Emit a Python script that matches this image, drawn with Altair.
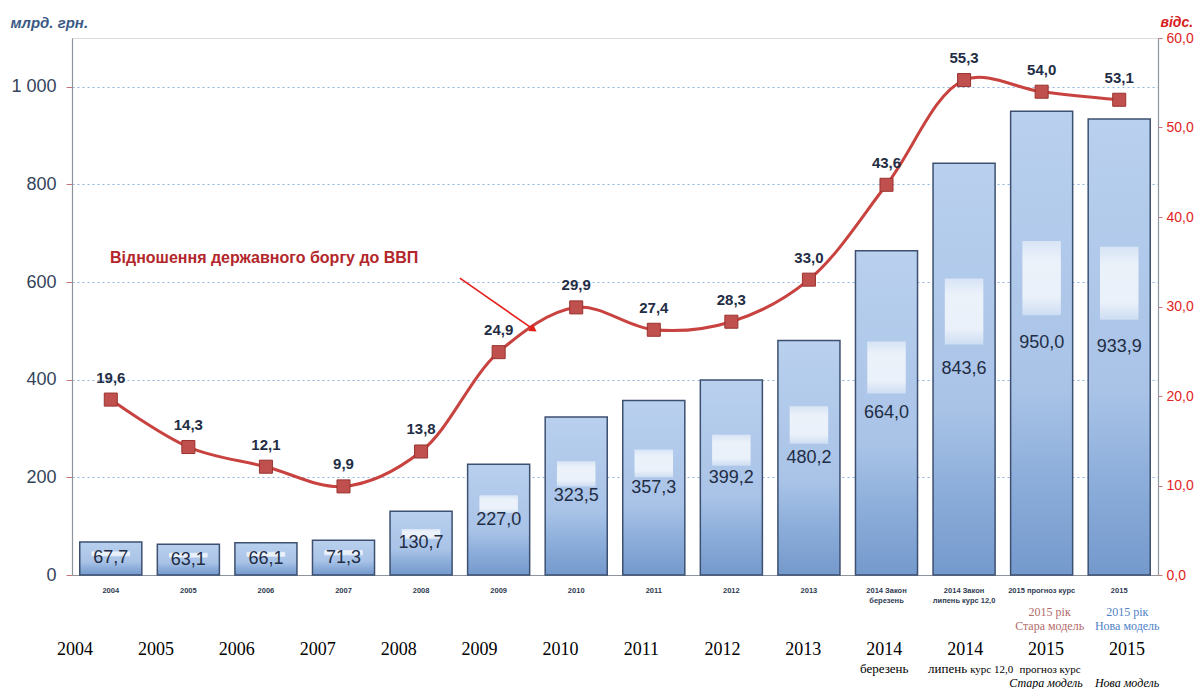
import altair as alt
import pandas as pd

# ---------------- data ----------------
categories = ["2004", "2005", "2006", "2007", "2008", "2009", "2010", "2011", "2012", "2013",
              "2014 Закон|березень", "2014 Закон|липень курс 12,0", "2015 прогноз курс", "2015"]
debt = [67.7, 63.1, 66.1, 71.3, 130.7, 227.0, 323.5, 357.3, 399.2, 480.2, 664.0, 843.6, 950.0, 933.9]
ratio = [19.6, 14.3, 12.1, 9.9, 13.8, 24.9, 29.9, 27.4, 28.3, 33.0, 43.6, 55.3, 54.0, 53.1]

year_row = ["2004", "2005", "2006", "2007", "2008", "2009", "2010", "2011", "2012", "2013",
            "2014", "2014", "2015", "2015"]
sub_center = {10: "березень"}
sub_right = {11: "липень"}
sub_small_left = {11: "курс 12,0"}
sub_small_center = {12: "прогноз курс"}
sub_italic = {12: "Стара модель", 13: "Нова модель"}
model_cats = ["2015 прогноз курс", "2015"]
model_text = ["2015 рік|Стара модель", "2015 рік|Нова модель"]

annot_text = "Відношення державного боргу до ВВП"
annot_x = [-0.01]
annot_y = [650]
arrow_x = [4.5, 5.45]
arrow_y = [608, 503]

# ---------------- frames ----------------
def frame(d):
    return pd.DataFrame({"idx": list(d.keys()), "t": list(d.values())})

df = pd.DataFrame({"cat": categories, "debt": debt, "ratio": ratio})
df_years = pd.DataFrame({"idx": list(range(len(year_row))), "t": year_row})
df_model = pd.DataFrame({"cat": model_cats, "txt": model_text, "kind": ["old", "new"]})
df_annot = pd.DataFrame({"x": annot_x, "y": annot_y, "t": [annot_text]})
df_arrow = pd.DataFrame({"x": arrow_x[:1], "y": arrow_y[:1], "x2": arrow_x[1:], "y2": arrow_y[1:]})
df_head = pd.DataFrame({"x": arrow_x[1:], "y": arrow_y[1:]})

W, H = 1086, 537
FONT = "Liberation Sans"
SERIF = "Liberation Serif"

xband = alt.Scale(domain=categories, paddingInner=0.2, paddingOuter=0.1)
yleft = alt.Scale(domain=[0, 1100], nice=False)
yright = alt.Scale(domain=[0, 60], nice=False)
xq = alt.Scale(domain=[-0.5, 13.5], nice=False, zero=False)
xpt = alt.Scale(type="point", domain=list(range(len(year_row))), range=[3, 1055], padding=0)

bar_grad = alt.Gradient(
    gradient="linear", x1=0, x2=0, y1=0, y2=1,
    stops=[alt.GradientStop(color="#b9d0ee", offset=0),
           alt.GradientStop(color="#a9c3e7", offset=0.6),
           alt.GradientStop(color="#8eafdb", offset=0.78),
           alt.GradientStop(color="#7499cc", offset=1)])
hl_grad = alt.Gradient(
    gradient="linear", x1=0, x2=0, y1=0, y2=1,
    stops=[alt.GradientStop(color="#e4edf9", offset=0),
           alt.GradientStop(color="#ffffff", offset=0.25),
           alt.GradientStop(color="#ffffff", offset=0.75),
           alt.GradientStop(color="#d8e5f6", offset=1)])

base = alt.Chart(df)
XB = alt.X("cat:N", sort=categories, scale=xband, axis=None)

bars = base.mark_bar(color=bar_grad, stroke="#3d5070", strokeWidth=1.5).encode(
    x=alt.X("cat:N", sort=categories, scale=xband,
            axis=alt.Axis(title=None, labelExpr="split(datum.label, '|')", labelAngle=0,
                          labelFont=FONT, labelFontSize=7.5, labelFontWeight="bold",
                          labelColor="#2e3b52", labelPadding=11, labelLineHeight=10,
                          ticks=False, domainColor="#8d949c", domainWidth=1.2)),
    y=alt.Y("debt:Q", scale=yleft,
            axis=alt.Axis(title="млрд. грн.", titleAngle=0, titleX=-62, titleY=-16,
                          titleAlign="left", titleBaseline="middle", titleFont=FONT,
                          titleFontSize=15, titleFontStyle="italic", titleFontWeight="bold",
                          titleColor="#3a5a85",
                          values=[0, 200, 400, 600, 800, 1000],
                          labelExpr="replace(format(datum.value, ',d'), ',', ' ')",
                          labelFont=FONT, labelFontSize=18, labelColor="#34445c",
                          labelPadding=10, tickSize=6, tickColor="#c77",
                          domainColor="#8d949c", domainWidth=1.2,
                          grid=True, gridDash=[2, 3], gridColor="#8db3e2", gridWidth=1.2)),
)

highlight = base.transform_calculate(
    h1="datum.debt * 0.56", h2="datum.debt * 0.72"
).mark_bar(color=hl_grad, opacity=0.75, width={"band": 0.62}).encode(
    x=XB,
    y=alt.Y("h1:Q", scale=yleft, axis=None),
    y2="h2:Q",
)

bar_labels = base.transform_calculate(
    mid="datum.debt / 2",
    lbl="replace(format(datum.debt, '.1f'), '.', ',')"
).mark_text(font=FONT, fontSize=18, color="#1f2d45", baseline="middle").encode(
    x=XB,
    y=alt.Y("mid:Q", scale=yleft, axis=None),
    text="lbl:N",
)

line = base.mark_line(color="#c8423f", strokeWidth=3, interpolate="catmull-rom").encode(
    x=XB,
    y=alt.Y("ratio:Q", scale=yright,
            axis=alt.Axis(title="відс.", orient="right", titleAngle=0, titleX=2, titleY=-16,
                          titleAlign="left", titleBaseline="middle", titleFont=FONT,
                          titleFontSize=14, titleFontStyle="italic", titleFontWeight="bold",
                          titleColor="#d82020",
                          values=[0, 10, 20, 30, 40, 50, 60],
                          labelExpr="replace(format(datum.value, '.1f'), '.', ',')",
                          labelFont=FONT, labelFontSize=14, labelColor="#e02424",
                          labelPadding=4, tickSize=4, tickColor="#c77",
                          domainColor="#8d949c", domainWidth=1.2, grid=False)),
)
points = base.mark_point(shape="square", filled=True, size=170, color="#c0504d",
                         stroke="#9a3330", strokeWidth=1, opacity=1).encode(
    x=XB,
    y=alt.Y("ratio:Q", scale=yright, axis=None),
)
point_labels = base.transform_calculate(
    lbl="replace(format(datum.ratio, '.1f'), '.', ',')"
).mark_text(font=FONT, fontSize=15, fontWeight="bold", color="#1f2d45",
            baseline="middle", dy=-22).encode(
    x=XB,
    y=alt.Y("ratio:Q", scale=yright, axis=None),
    text="lbl:N",
)

# annotation (same left value scale, fractional category positions)
annot = alt.Chart(df_annot).mark_text(font=FONT, fontSize=16, fontWeight="bold",
                                      color="#b3262b", align="left", baseline="middle").encode(
    x=alt.X("x:Q", scale=xq, axis=None),
    y=alt.Y("y:Q", scale=yleft, axis=None),
    text="t:N",
)
arrow = alt.Chart(df_arrow).mark_rule(color="#e4201c", strokeWidth=1.6).encode(
    x=alt.X("x:Q", scale=xq, axis=None),
    y=alt.Y("y:Q", scale=yleft, axis=None),
    x2="x2:Q", y2="y2:Q",
)
head = alt.Chart(df_head).mark_point(shape="triangle-up", filled=True, size=70,
                                     color="#e4201c", angle=124, opacity=1).encode(
    x=alt.X("x:Q", scale=xq, axis=None),
    y=alt.Y("y:Q", scale=yleft, axis=None),
)

# model captions under the axis
model = alt.Chart(df_model).mark_text(font=SERIF, fontSize=12, lineBreak="|", lineHeight=14,
                                      baseline="top", dx=8).encode(
    x=XB,
    y=alt.value(569),
    text="txt:N",
    color=alt.Color("kind:N", scale=alt.Scale(domain=["old", "new"],
                                              range=["#b36a6a", "#4f82c6"]), legend=None),
)

# separate table of year captions
XP = alt.X("idx:O", scale=xpt, axis=None)
years = alt.Chart(df_years).mark_text(font=SERIF, fontSize=18, color="#000000",
                                      baseline="middle").encode(
    x=XP, y=alt.value(612), text="t:N")
s_center = alt.Chart(frame(sub_center)).mark_text(
    font=SERIF, fontSize=13, color="#000000", baseline="middle").encode(
    x=XP, y=alt.value(631), text="t:N")
s_right = alt.Chart(frame(sub_right)).mark_text(
    font=SERIF, fontSize=13, color="#000000", baseline="middle", align="right", dx=2).encode(
    x=XP, y=alt.value(631), text="t:N")
s_small_left = alt.Chart(frame(sub_small_left)).mark_text(
    font=SERIF, fontSize=11, color="#000000", baseline="middle", align="left", dx=5).encode(
    x=XP, y=alt.value(632), text="t:N")
s_small_center = alt.Chart(frame(sub_small_center)).mark_text(
    font=SERIF, fontSize=11, color="#000000", baseline="middle", dx=4).encode(
    x=XP, y=alt.value(632), text="t:N")
s_ital = alt.Chart(frame(sub_italic)).mark_text(
    font=SERIF, fontSize=12, fontStyle="italic", color="#000000", baseline="middle").encode(
    x=XP, y=alt.value(645), text="t:N")

chart = alt.layer(
    bars, highlight, bar_labels, line, points, point_labels,
    annot, arrow, head, model, years, s_center, s_right, s_small_left, s_small_center, s_ital
).resolve_scale(
    x="independent", y="independent", color="independent"
).properties(
    width=W, height=H,
    autosize=alt.AutoSizeParams(type="none"),
    padding={"left": 72, "top": 38, "right": 42, "bottom": 114},
).configure_view(strokeWidth=0).configure(background="white")

chart.save("out.html", embed_options={"renderer": "svg", "actions": False})
